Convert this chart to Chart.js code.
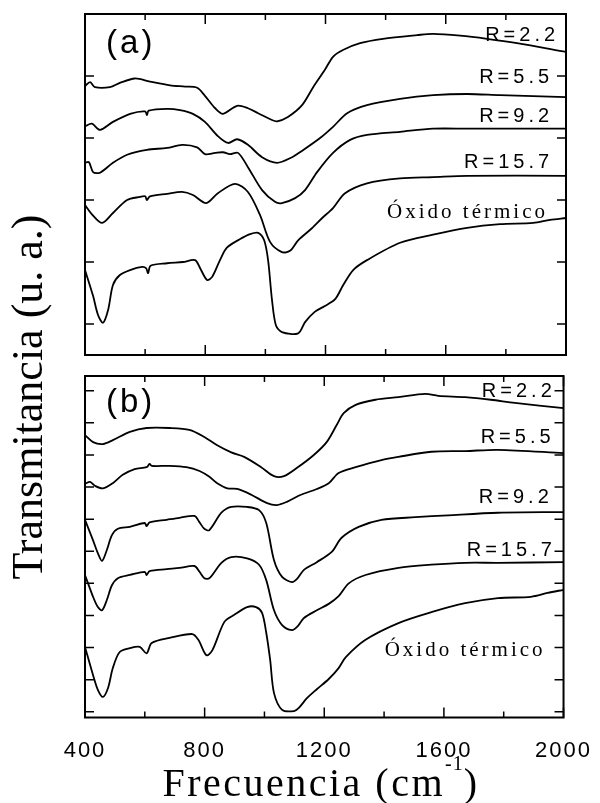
<!DOCTYPE html>
<html>
<head>
<meta charset="utf-8">
<script src="https://cdn.jsdelivr.net/npm/chart.js@4.4.1/dist/chart.umd.min.js"></script>
<style>
  html, body { margin: 0; padding: 0; background: #fff; }
  #wrap { position: relative; width: 600px; height: 803px; overflow: hidden; }
  #cA { position: absolute; left: 0; top: 0; }
  #cB { position: absolute; left: 0; top: 365px; }
  .ytitle {
    position: absolute; left: -172px; top: 374.5px; width: 400px; height: 44px;
    line-height: 44px; font-family: "Liberation Serif"; font-size: 44px;
    text-align: center; white-space: nowrap; transform: rotate(-90deg); color: #000;
  }
  .xtitle {
    position: absolute; left: 21px; top: 762.5px; width: 600px; height: 40px;
    line-height: 40px; font-family: "Liberation Serif"; font-size: 40px;
    letter-spacing: 2.5px; text-align: center; white-space: nowrap; color: #000;
  }
  .xtitle .sup { font-size: 20px; position: relative; top: -26px; letter-spacing: 1px; }
</style>
</head>
<body>
<div id="wrap">
  <canvas id="cA" width="600" height="365"></canvas>
  <canvas id="cB" width="600" height="438"></canvas>
  <div class="ytitle">Transmitancia (u. a.)</div>
  <div class="xtitle">Frecuencia (cm<span class="sup">-1</span>)</div>
</div>
<script>
// FTIR spectra, panel (a)
const fA1 = [400,417,433,483,516,566,616,683,733,773,799,833,859,906,942,976,1022,1039,1075,1122,1159,1198,1225,1258,1315,1391,1505,1558,1648,1737,1837,2000];
const tA1 = [3.84,3.90,3.82,3.82,3.89,3.96,3.91,3.85,3.83,3.81,3.68,3.48,3.39,3.52,3.48,3.40,3.29,3.27,3.34,3.53,3.82,4.10,4.31,4.42,4.53,4.60,4.66,4.68,4.65,4.60,4.53,4.39];
const fA2 = [400,423,450,493,550,600,606,612,673,716,759,799,842,876,906,942,989,1039,1089,1115,1182,1225,1272,1338,1448,1558,1671,1781,2000];
const tA2 = [3.19,3.23,3.13,3.26,3.39,3.43,3.37,3.44,3.47,3.45,3.39,3.26,3.03,2.92,2.98,2.89,2.69,2.60,2.69,2.77,3.00,3.18,3.40,3.53,3.63,3.69,3.71,3.69,3.66];
const fA3 = [400,413,427,450,493,540,606,673,723,773,799,833,859,882,909,942,989,1032,1055,1099,1132,1172,1225,1282,1338,1448,1558,1671,2000];
const tA3 = [2.60,2.61,2.45,2.44,2.60,2.73,2.81,2.84,2.89,2.85,2.74,2.76,2.77,2.74,2.76,2.53,2.16,1.97,1.95,2.03,2.16,2.45,2.76,2.97,3.05,3.10,3.15,3.15,3.15];
const fA4 = [400,423,457,493,540,583,600,606,616,673,723,759,803,842,899,942,982,1016,1055,1082,1109,1149,1189,1225,1265,1338,1448,1558,1671,2000];
const tA4 = [1.92,1.77,1.63,1.79,2.00,2.05,2.06,2.00,2.06,2.10,2.13,2.08,1.95,2.11,2.26,2.13,1.76,1.32,1.16,1.18,1.35,1.52,1.71,1.87,2.11,2.27,2.35,2.37,2.39,2.39];
const fA5 = [400,427,443,460,477,493,516,550,590,603,610,618,673,726,766,783,806,823,849,872,916,949,976,996,1009,1022,1035,1055,1109,1132,1165,1198,1232,1258,1292,1338,1448,1558,1671,1781,1891,1947,2000];
const tA5 = [0.87,0.45,0.15,0.02,0.23,0.63,0.79,0.87,0.92,0.90,0.82,0.94,0.98,1.00,1.03,0.90,0.71,0.76,1.03,1.23,1.37,1.45,1.47,1.35,1.03,0.39,-0.02,-0.13,-0.15,0.03,0.20,0.29,0.40,0.62,0.87,1.03,1.31,1.44,1.55,1.61,1.63,1.68,1.71];

// FTIR spectra, panel (b)
const fB1 = [400,427,460,493,550,606,683,749,799,842,889,932,989,1032,1065,1109,1165,1208,1242,1265,1305,1371,1448,1538,1581,1671,1757,1837,2000];
const tB1 = [4.31,4.20,4.17,4.23,4.36,4.42,4.42,4.39,4.28,4.15,4.04,3.97,3.81,3.67,3.67,3.80,4.00,4.20,4.47,4.65,4.78,4.86,4.90,4.95,4.92,4.90,4.86,4.81,4.73];
const fB2 = [400,417,433,460,493,526,566,606,616,623,683,739,783,816,842,876,909,956,1009,1042,1075,1122,1175,1215,1248,1305,1391,1448,1558,1671,1781,2000];
const tB2 = [3.55,3.58,3.52,3.48,3.56,3.69,3.78,3.81,3.86,3.83,3.83,3.81,3.75,3.66,3.56,3.48,3.47,3.38,3.25,3.22,3.27,3.38,3.47,3.56,3.72,3.81,3.92,3.97,4.05,4.06,4.08,4.03];
const fB3 = [400,427,443,457,473,490,510,550,600,606,616,673,716,766,783,799,816,856,889,942,982,1006,1032,1059,1092,1109,1132,1175,1225,1258,1315,1391,1505,1614,1781,2000];
const tB3 = [2.99,2.67,2.47,2.35,2.52,2.75,2.85,2.88,2.94,2.89,2.95,2.99,3.02,3.05,2.95,2.85,2.83,3.10,3.19,3.19,3.14,2.94,2.36,2.10,2.02,2.07,2.21,2.33,2.49,2.71,2.88,2.99,3.03,3.06,3.10,3.11];
const fB4 = [400,427,443,457,473,490,510,550,600,606,616,673,716,766,783,799,816,856,889,942,982,1006,1032,1059,1092,1109,1132,1175,1215,1248,1282,1338,1448,1558,1671,1781,2000];
const tB4 = [2.13,1.79,1.63,1.58,1.74,1.97,2.08,2.13,2.18,2.13,2.19,2.22,2.24,2.27,2.18,2.08,2.08,2.32,2.41,2.39,2.29,2.05,1.58,1.35,1.27,1.32,1.46,1.58,1.68,1.80,2.00,2.13,2.24,2.29,2.32,2.32,2.33];
const fB5 = [400,427,443,460,477,493,516,550,583,606,623,683,759,779,806,826,866,899,942,972,992,1006,1019,1032,1059,1099,1115,1142,1175,1215,1248,1272,1338,1448,1558,1671,1781,1891,1947,2000];
const tB5 = [1.01,0.57,0.34,0.23,0.37,0.68,0.93,0.99,1.01,0.91,1.07,1.15,1.21,1.12,0.88,0.96,1.40,1.51,1.63,1.63,1.54,1.23,0.81,0.29,0.03,0.01,0.06,0.21,0.35,0.51,0.68,0.85,1.12,1.38,1.55,1.69,1.77,1.79,1.85,1.90];

// axis ticks (arbitrary transmittance units)
const yTicksA = [0, 1, 2, 3, 4];
const yTicksB = [0, 0.5, 1, 1.5, 2, 2.5, 3, 3.5, 4, 4.5, 5];

// curve labels
const tagText = ['R=2.2', 'R=5.5', 'R=9.2', 'R=15.7', 'Óxido térmico'];
const tagPosA = [[1977, 4.57], [1957, 3.89], [1957, 3.26], [1957, 2.52], [1940, 1.71]];
const tagPosB = [[1974, 4.90], [1970, 4.19], [1964, 3.25], [1974, 2.43], [1940, 0.87]];

const sansTag = { font: '20px "Liberation Sans"', spacing: '4px' };
const serifTag = { font: '21px "Liberation Serif"', spacing: '3px' };

// frame, inward ticks on all four sides and the text inside the panel
const panelDecor = {
  id: 'panelDecor',
  beforeDraw(chart) {
    chart.ctx.letterSpacing = '2px';
  },
  afterDraw(chart, args, opts) {
    const { ctx, chartArea: a, scales: { x, y } } = chart;
    ctx.save();
    ctx.strokeStyle = '#000';
    ctx.lineWidth = 1.5;
    ctx.beginPath();
    x.ticks.forEach(t => {
      const px = x.getPixelForValue(t.value);
      const len = t.value % 400 === 0 ? 10 : 6;
      ctx.moveTo(px, a.bottom); ctx.lineTo(px, a.bottom - len);
      ctx.moveTo(px, a.top); ctx.lineTo(px, a.top + len);
    });
    y.ticks.forEach(t => {
      const py = y.getPixelForValue(t.value);
      ctx.moveTo(a.left, py); ctx.lineTo(a.left + 9, py);
      ctx.moveTo(a.right, py); ctx.lineTo(a.right - 9, py);
    });
    ctx.stroke();
    ctx.lineWidth = 2;
    ctx.strokeRect(a.left, a.top, a.right - a.left, a.bottom - a.top);

    ctx.fillStyle = '#000';
    ctx.textBaseline = 'alphabetic';
    ctx.textAlign = 'right';
    opts.tags.forEach((txt, i) => {
      const st = txt.startsWith('R') ? sansTag : serifTag;
      ctx.font = st.font;
      ctx.letterSpacing = st.spacing;
      const [f, v] = opts.tagPos[i];
      ctx.fillText(txt, x.getPixelForValue(f), y.getPixelForValue(v));
    });
    ctx.textAlign = 'left';
    ctx.font = '33px "Liberation Sans"';
    ctx.letterSpacing = '3px';
    ctx.fillText(opts.letter, x.getPixelForValue(opts.letterPos[0]), y.getPixelForValue(opts.letterPos[1]));
    ctx.restore();
    ctx.letterSpacing = '0px';
  }
};

function makePanel(id, fs, ts, yMin, yMax, yTicks, tagPos, letter, letterPos, bottom) {
  const datasets = fs.map((f, i) => ({
    data: f.map((v, j) => ({ x: v, y: ts[i][j] })),
    borderColor: '#000',
    borderWidth: 1.8,
    pointRadius: 0,
    fill: false,
    tension: 0.3
  }));
  return new Chart(document.getElementById(id), {
    type: 'line',
    data: { datasets },
    options: {
      responsive: false,
      animation: false,
      events: [],
      layout: {
        padding: bottom
          ? { left: 85, right: 34, top: 11, bottom: 45.5 }
          : { left: 85, right: 34, top: 14, bottom: 10 }
      },
      plugins: {
        legend: { display: false },
        tooltip: { enabled: false },
        panelDecor: { tags: tagText, tagPos, letter, letterPos }
      },
      scales: {
        x: {
          type: 'linear', min: 400, max: 2000,
          grid: { display: false }, border: { display: false },
          ticks: {
            display: bottom, stepSize: 200, autoSkip: false, maxRotation: 0,
            padding: 12, color: '#000',
            font: { family: 'Liberation Sans', size: 22 },
            callback: v => (v % 400 === 0 ? String(v) : '')
          },
          afterFit: s => { s.height = bottom ? 40 : 0; }
        },
        y: {
          type: 'linear', min: yMin, max: yMax,
          grid: { display: false }, border: { display: false },
          ticks: { display: false },
          afterBuildTicks: s => { s.ticks = yTicks.map(v => ({ value: v })); },
          afterFit: s => { s.width = 0; }
        }
      }
    },
    plugins: [panelDecor]
  });
}

makePanel('cA', [fA1, fA2, fA3, fA4, fA5], [tA1, tA2, tA3, tA4, tA5],
  -0.5, 5.0, yTicksA, tagPosA, '(a)', [470, 4.37], false);
makePanel('cB', [fB1, fB2, fB3, fB4, fB5], [tB1, tB2, tB3, tB4, tB5],
  -0.09, 5.23, yTicksB, tagPosB, '(b)', [470, 4.67], true);
</script>
</body>
</html>
